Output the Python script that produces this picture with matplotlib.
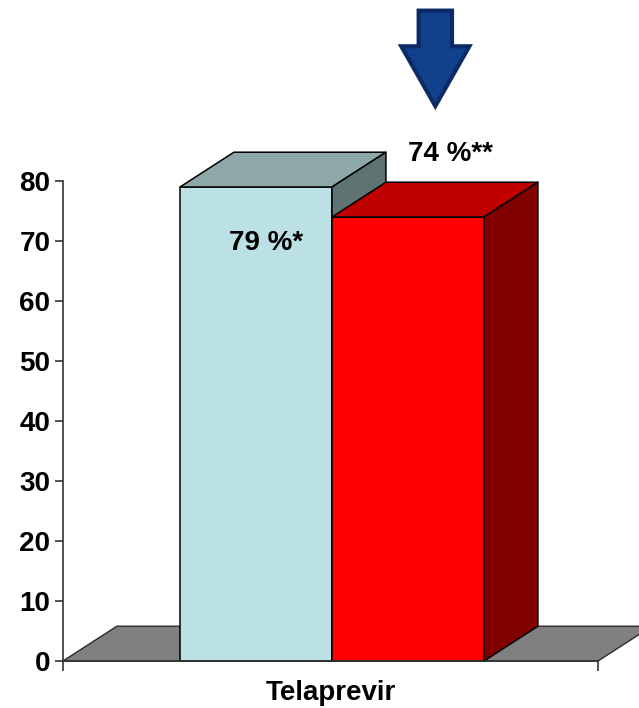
import matplotlib
matplotlib.use('Agg')
import matplotlib.pyplot as plt
from matplotlib.patches import Polygon

plt.rcParams['font.family'] = ['Liberation Sans', 'DejaVu Sans']

# ------------------------------------------------------------
#  data
# ------------------------------------------------------------
category = 'Telaprevir'
values = [79, 74]
labels = ['79 %*', '74 %**']
front_colors = ['#BCE1E4', '#FF0000']
top_colors = ['#8EA7A8', '#C00000']
side_colors = ['#5F7373', '#800000']
yticks = [0, 10, 20, 30, 40, 50, 60, 70, 80]

# geometry in data units (bar width = 1)
BAR_W = 1.0
BAR_X0 = 0.77
FLOOR_END = 3.52
DEPTH_X = 0.355
DEPTH_Y = 5.8


def box(ax, x0, h, front, top, side):
    """front / top / right faces of one 3D bar"""
    x1 = x0 + BAR_W
    faces = [
        ([(x0, 0), (x1, 0), (x1, h), (x0, h)], front),
        ([(x0, h), (x1, h), (x1 + DEPTH_X, h + DEPTH_Y), (x0 + DEPTH_X, h + DEPTH_Y)], top),
        ([(x1, 0), (x1 + DEPTH_X, DEPTH_Y), (x1 + DEPTH_X, h + DEPTH_Y), (x1, h)], side),
    ]
    for pts, c in faces:
        ax.add_patch(Polygon(pts, closed=True, facecolor=c, edgecolor='black',
                             lw=1.1, joinstyle='round', clip_on=False))


fig = plt.figure(figsize=(6.39, 7.08), dpi=100)
ax = fig.add_axes([0, 0, 1, 1])
ax.set_xlim(-0.414, 3.79)
ax.set_ylim(-7.83, 110.17)
ax.patch.set_visible(False)

# floor
floor = Polygon([(0, 0), (FLOOR_END, 0), (FLOOR_END + DEPTH_X, DEPTH_Y), (DEPTH_X, DEPTH_Y)],
                closed=True, facecolor='#808080', edgecolor='#2A2A2A', lw=1.0)
ax.add_patch(floor)

for i, v in enumerate(values):
    box(ax, BAR_X0 + i * BAR_W, v, front_colors[i], top_colors[i], side_colors[i])

# value labels
ax.text(1.09, 69.7, labels[0], fontsize=20, fontweight='bold', va='center', ha='left')
ax.text(2.27, 84.5, labels[1], fontsize=20, fontweight='bold', va='center', ha='left')

# category label
ax.text(BAR_X0 + BAR_W - 0.01, -5.4, category, fontsize=20, fontweight='bold',
        ha='center', va='center')

# arrow above the second bar
ax.annotate('', xy=(2.45, 92.5), xytext=(2.45, 108.4),
            arrowprops=dict(arrowstyle='simple,head_length=43,head_width=49,tail_width=24',
                            mutation_scale=1, facecolor='#11408C', edgecolor='#0B2A66',
                            lw=3, joinstyle='miter', shrinkA=0, shrinkB=0))

# axes
for s in ['top', 'right']:
    ax.spines[s].set_visible(False)
ax.spines['left'].set_position(('data', 0))
ax.spines['left'].set_bounds(0, 80)
ax.spines['bottom'].set_position(('data', 0))
ax.spines['bottom'].set_bounds(0, FLOOR_END)
for s in ['left', 'bottom']:
    ax.spines[s].set_color('#333333')
    ax.spines[s].set_linewidth(1.2)

ax.set_yticks(yticks)
ax.set_yticklabels([str(t) for t in yticks], fontsize=20, fontweight='bold')
ax.tick_params(axis='y', direction='out', length=6, width=1.2, color='#333333', pad=3)
ax.set_xticks([0, FLOOR_END])
ax.set_xticklabels([])
ax.tick_params(axis='x', direction='out', length=7, width=1.2, color='#333333')

fig.savefig('out.png', dpi=100)
